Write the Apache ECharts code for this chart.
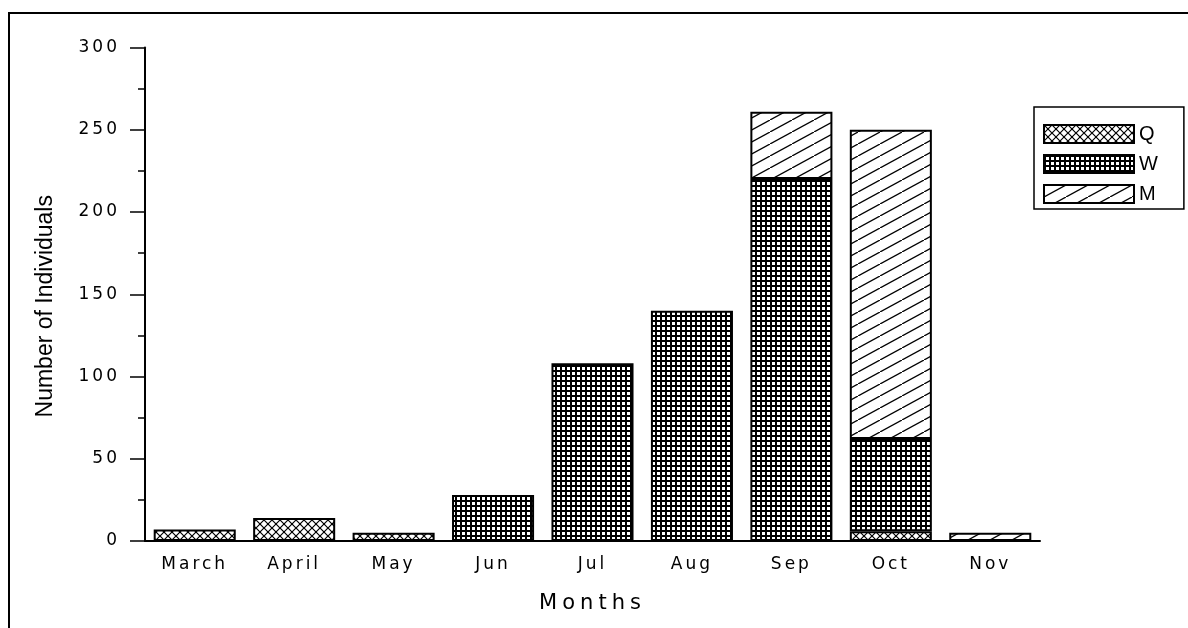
<!DOCTYPE html>
<html>
<head>
<meta charset="utf-8">
<script src="https://cdn.jsdelivr.net/npm/echarts@6/dist/echarts.min.js"></script>
<style>
html,body{margin:0;padding:0;background:#fff;}
#chart{width:1188px;height:628px;}
</style>
</head>
<body>
<div id="chart"></div>
<script>
// ---- data ----
const months = ['March','April','May','Jun','Jul','Aug','Sep','Oct','Nov'];
const seriesNames = ['Q','W','M'];
const valuesQ = [7, 14, 5, null, null, null, null, 6, null];
const valuesW = [null, null, null, 28, 108, 140, 220, 56, null];
const valuesM = [null, null, null, null, null, null, 41, 188, 5];
const yTicks = [0, 50, 100, 150, 200, 250, 300];

// ---- letter spacing for spaced-out label texts (presentation only) ----
const _fillText = CanvasRenderingContext2D.prototype.fillText;
CanvasRenderingContext2D.prototype.fillText = function (t, x, y, m) {
  const f = this.font || '';
  let ls = '0px';
  if (/DejaVu Sans/.test(f)) {
    if (/(^|\s)21px/.test(f)) ls = '5px';
    else if (/(^|\s)17px/.test(f)) ls = '3px';
  }
  try { this.letterSpacing = ls; } catch (e) {}
  if (arguments.length > 3 && m != null) return _fillText.call(this, t, x, y, m);
  return _fillText.call(this, t, x, y);
};

// ---- hatch patterns ----
function tile(w, h, draw) {
  const c = document.createElement('canvas');
  c.width = w; c.height = h;
  const g = c.getContext('2d');
  g.fillStyle = '#fff'; g.fillRect(0, 0, w, h);
  g.fillStyle = '#000'; g.strokeStyle = '#000';
  draw(g, w, h);
  return c;
}
const patQ = tile(8, 8, (g, w, h) => {
  g.lineWidth = 1.2;
  g.beginPath();
  g.moveTo(0, 0); g.lineTo(w, h);
  g.moveTo(w, 0); g.lineTo(0, h);
  g.stroke();
  g.fillRect(3, 3, 2, 2);
});
const patW = tile(5, 5, (g, w, h) => {
  g.fillRect(0, 0, w, 2);
  g.fillRect(0, 0, 2, h);
});
const patM = tile(22, 12, (g, w, h) => {
  g.lineWidth = 1.3;
  g.beginPath();
  g.moveTo(-w, 2 * h); g.lineTo(2 * w, -h);
  g.stroke();
});
function pattern(c) { return { image: c, repeat: 'repeat' }; }

const chart = echarts.init(document.getElementById('chart'), null, { renderer: 'canvas' });

const barStyle = (p) => ({ color: pattern(p), borderColor: '#000', borderWidth: 2 });

chart.setOption({
  animation: false,
  backgroundColor: '#fff',
  graphic: [{
    type: 'rect', silent: true,
    shape: { x: 9, y: 13, width: 1400, height: 900 },
    style: { fill: 'none', stroke: '#000', lineWidth: 2 }
  }],
  grid: { left: 145, right: 148, top: 47.5, bottom: 87 },
  legend: {
    orient: 'vertical',
    left: 1034, top: 107,
    data: seriesNames,
    selectedMode: false,
    icon: 'rect',
    itemWidth: 90, itemHeight: 18, itemGap: 10,
    padding: [17, 26, 5, 9],
    borderColor: '#000', borderWidth: 1.5,
    textStyle: { fontFamily: 'Liberation Sans', fontSize: 20, color: '#000' }
  },
  xAxis: {
    type: 'category',
    data: months,
    name: 'Months',
    nameLocation: 'middle',
    nameGap: 52,
    nameTextStyle: { fontFamily: 'DejaVu Sans', fontSize: 21, color: '#000' },
    axisLine: { lineStyle: { color: '#000', width: 2 } },
    axisTick: { alignWithLabel: true, length: 10, lineStyle: { color: '#000', width: 1.5 } },
    axisLabel: { margin: 15, fontFamily: 'DejaVu Sans', fontSize: 17, color: '#000' }
  },
  yAxis: {
    type: 'value',
    min: yTicks[0], max: yTicks[yTicks.length - 1], interval: yTicks[1] - yTicks[0],
    name: 'Number of Individuals',
    nameLocation: 'middle',
    nameGap: 88,
    nameTextStyle: { fontFamily: 'Liberation Sans', fontSize: 23, color: '#000', padding: [0, 24, 0, 0] },
    splitLine: { show: false },
    axisLine: { show: true, lineStyle: { color: '#000', width: 2 } },
    axisTick: { show: true, length: 15, lineStyle: { color: '#000', width: 1.5 } },
    minorTick: { show: true, splitNumber: 2, length: 7, lineStyle: { color: '#000', width: 1.5 } },
    axisLabel: { margin: 25, fontFamily: 'DejaVu Sans', fontSize: 17, color: '#000' }
  },
  series: [
    { name: 'Q', type: 'bar', stack: 'all', barWidth: '82.5%', data: valuesQ, itemStyle: barStyle(patQ) },
    { name: 'W', type: 'bar', stack: 'all', barWidth: '82.5%', data: valuesW, itemStyle: barStyle(patW) },
    { name: 'M', type: 'bar', stack: 'all', barWidth: '82.5%', data: valuesM, itemStyle: barStyle(patM) }
  ]
});
</script>
</body>
</html>
